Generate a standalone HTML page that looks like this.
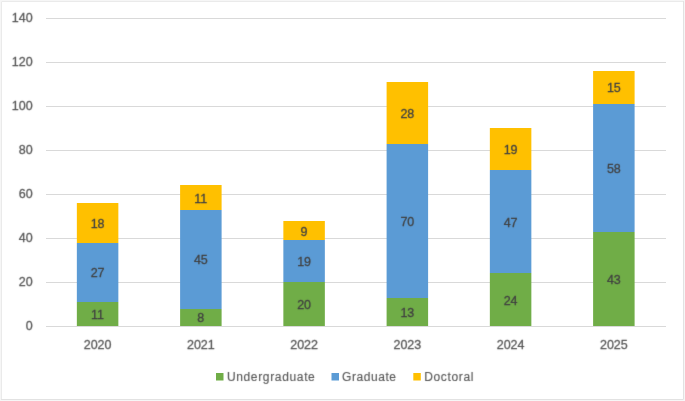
<!DOCTYPE html>
<html><head><meta charset="utf-8"><style>
html,body{margin:0;padding:0;background:#fff;}
body{width:685px;height:401px;overflow:hidden;}
svg{display:block;font-family:"Liberation Sans", sans-serif;}
#wrap{width:685px;height:401px;will-change:transform;}
text{stroke-width:0.3px;}
.ax,.lg{stroke:#595959;}
.dl{stroke:#404040;}
.ax{font-size:12.5px;fill:#595959;}
.dl{font-size:12.5px;fill:#404040;}
.lg{font-size:12px;fill:#595959;stroke-width:0.15px !important;}
</style></head><body><div id="wrap">
<svg width="685" height="401" viewBox="0 0 685 401">
<defs><filter id="bl" color-interpolation-filters="sRGB" x="0" y="0" width="685" height="401" filterUnits="userSpaceOnUse"><feConvolveMatrix order="3" kernelMatrix="0.01000 0.08000 0.01000 0.08000 0.64000 0.08000 0.01000 0.08000 0.01000" edgeMode="duplicate" preserveAlpha="false"/></filter></defs>
<rect x="0" y="0" width="685" height="401" fill="#F6F6F6"/>
<rect x="1" y="1" width="683" height="399" fill="#fff"/>
<path d="M1.5 400 V1.5 H684" fill="none" stroke="#EAEAEA" stroke-width="1"/>
<path d="M683.5 1 V399.5 H1" fill="none" stroke="#E2E2E2" stroke-width="1"/>
<line x1="46" y1="326.5" x2="666" y2="326.5" stroke="#D9D9D9" stroke-width="1"/>
<line x1="46" y1="282.5" x2="666" y2="282.5" stroke="#D9D9D9" stroke-width="1"/>
<line x1="46" y1="238.5" x2="666" y2="238.5" stroke="#D9D9D9" stroke-width="1"/>
<line x1="46" y1="194.5" x2="666" y2="194.5" stroke="#D9D9D9" stroke-width="1"/>
<line x1="46" y1="150.5" x2="666" y2="150.5" stroke="#D9D9D9" stroke-width="1"/>
<line x1="46" y1="106.5" x2="666" y2="106.5" stroke="#D9D9D9" stroke-width="1"/>
<line x1="46" y1="62.5" x2="666" y2="62.5" stroke="#D9D9D9" stroke-width="1"/>
<line x1="46" y1="18.5" x2="666" y2="18.5" stroke="#D9D9D9" stroke-width="1"/>
<rect x="76.85" y="302" width="41.50" height="24" fill="#70AD47"/>
<rect x="76.85" y="243" width="41.50" height="59" fill="#5B9BD5"/>
<rect x="76.85" y="203" width="41.50" height="40" fill="#FFC000"/>
<rect x="180.10" y="309" width="41.50" height="17" fill="#70AD47"/>
<rect x="180.10" y="210" width="41.50" height="99" fill="#5B9BD5"/>
<rect x="180.10" y="185" width="41.50" height="25" fill="#FFC000"/>
<rect x="283.35" y="282" width="41.50" height="44" fill="#70AD47"/>
<rect x="283.35" y="240" width="41.50" height="42" fill="#5B9BD5"/>
<rect x="283.35" y="221" width="41.50" height="19" fill="#FFC000"/>
<rect x="386.60" y="298" width="41.50" height="28" fill="#70AD47"/>
<rect x="386.60" y="144" width="41.50" height="154" fill="#5B9BD5"/>
<rect x="386.60" y="82" width="41.50" height="62" fill="#FFC000"/>
<rect x="489.85" y="273" width="41.50" height="53" fill="#70AD47"/>
<rect x="489.85" y="170" width="41.50" height="103" fill="#5B9BD5"/>
<rect x="489.85" y="128" width="41.50" height="42" fill="#FFC000"/>
<rect x="593.10" y="232" width="41.50" height="94" fill="#70AD47"/>
<rect x="593.10" y="104" width="41.50" height="128" fill="#5B9BD5"/>
<rect x="593.10" y="71" width="41.50" height="33" fill="#FFC000"/>
<rect x="216" y="373" width="7.5" height="7.5" fill="#70AD47"/>
<rect x="331.5" y="373" width="7.5" height="7.5" fill="#5B9BD5"/>
<rect x="413.3" y="373" width="7.5" height="7.5" fill="#FFC000"/>
<g filter="url(#bl)">
<text class="ax" x="32.6" y="330.35" text-anchor="end">0</text>
<text class="ax" x="32.6" y="286.32" text-anchor="end">20</text>
<text class="ax" x="32.6" y="242.29" text-anchor="end">40</text>
<text class="ax" x="32.6" y="198.27" text-anchor="end">60</text>
<text class="ax" x="32.6" y="154.24" text-anchor="end">80</text>
<text class="ax" x="32.6" y="110.21" text-anchor="end">100</text>
<text class="ax" x="32.6" y="66.18" text-anchor="end">120</text>
<text class="ax" x="32.6" y="22.15" text-anchor="end">140</text>
<text class="dl" x="97.60" y="319.19" text-anchor="middle">11</text>
<text class="dl" x="97.60" y="277.37" text-anchor="middle">27</text>
<text class="dl" x="97.60" y="227.83" text-anchor="middle">18</text>
<text class="ax" x="97.60" y="348.50" text-anchor="middle">2020</text>
<text class="dl" x="200.85" y="322.49" text-anchor="middle">8</text>
<text class="dl" x="200.85" y="264.16" text-anchor="middle">45</text>
<text class="dl" x="200.85" y="202.52" text-anchor="middle">11</text>
<text class="ax" x="200.85" y="348.50" text-anchor="middle">2021</text>
<text class="dl" x="304.10" y="309.29" text-anchor="middle">20</text>
<text class="dl" x="304.10" y="266.36" text-anchor="middle">19</text>
<text class="dl" x="304.10" y="235.54" text-anchor="middle">9</text>
<text class="ax" x="304.10" y="348.50" text-anchor="middle">2022</text>
<text class="dl" x="407.35" y="316.99" text-anchor="middle">13</text>
<text class="dl" x="407.35" y="225.63" text-anchor="middle">70</text>
<text class="dl" x="407.35" y="117.76" text-anchor="middle">28</text>
<text class="ax" x="407.35" y="348.50" text-anchor="middle">2023</text>
<text class="dl" x="510.60" y="304.88" text-anchor="middle">24</text>
<text class="dl" x="510.60" y="226.73" text-anchor="middle">47</text>
<text class="dl" x="510.60" y="154.09" text-anchor="middle">19</text>
<text class="ax" x="510.60" y="348.50" text-anchor="middle">2024</text>
<text class="dl" x="613.85" y="283.97" text-anchor="middle">43</text>
<text class="dl" x="613.85" y="172.80" text-anchor="middle">58</text>
<text class="dl" x="613.85" y="92.45" text-anchor="middle">15</text>
<text class="ax" x="613.85" y="348.50" text-anchor="middle">2025</text>
<text class="lg" x="226.89999999999998" y="380.8" textLength="87.90" lengthAdjust="spacing">Undergraduate</text>
<text class="lg" x="342.0" y="380.8" textLength="54.00" lengthAdjust="spacing">Graduate</text>
<text class="lg" x="424.2" y="380.8" textLength="49.20" lengthAdjust="spacing">Doctoral</text>
</g>
</svg></div>
</body></html>
